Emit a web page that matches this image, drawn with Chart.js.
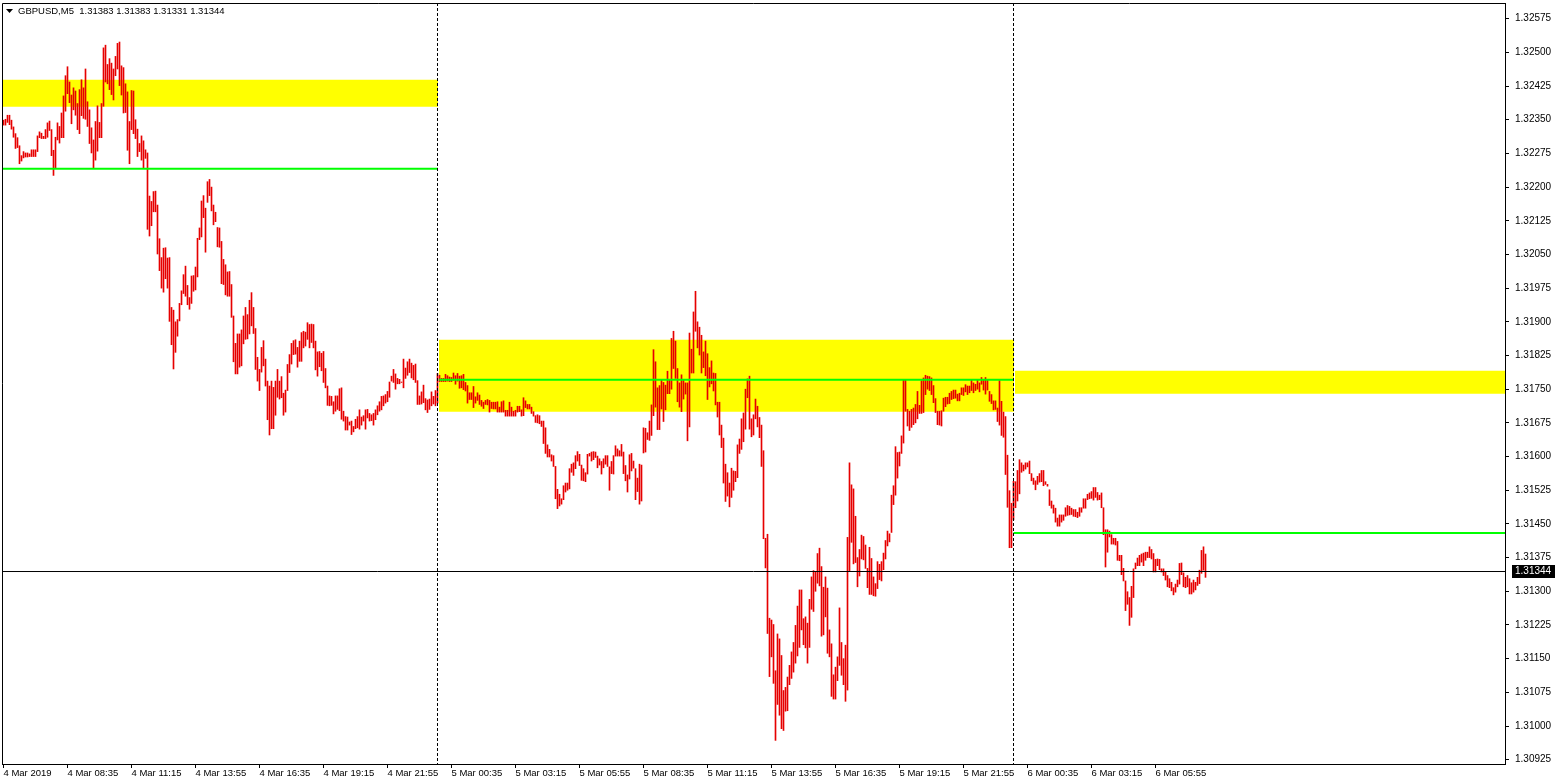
<!DOCTYPE html>
<html><head><meta charset="utf-8">
<script src="https://cdn.jsdelivr.net/npm/chart.js@4.4.1/dist/chart.umd.min.js"></script>
<style>html,body{margin:0;padding:0;background:#fff;}canvas{display:block;}</style>
</head><body>
<canvas id="c" width="1557" height="783"></canvas>
<script>
const symbol = 'GBPUSD';
const timeframe = 'M5';
const lastQuote = [1.31383, 1.31383, 1.31331, 1.31344]; // open, high, low, close of the last bar

// M5 bars from 4 Mar 05:55 to 6 Mar 08:00 (index 0..601)
const highs = [
1.32349,1.32351,1.32360,1.32360,1.32349,1.32334,1.32319,1.32310,1.32292,1.32270,
1.32279,1.32276,1.32276,1.32274,1.32283,1.32283,1.32283,1.32314,1.32323,1.32320,
1.32313,1.32328,1.32343,1.32347,1.32328,1.32282,1.32311,1.32343,1.32335,1.32365,
1.32403,1.32448,1.32468,1.32434,1.32405,1.32421,1.32414,1.32386,1.32417,1.32439,
1.32421,1.32463,1.32390,1.32372,1.32332,1.32305,1.32346,1.32381,1.32344,1.32386,
1.32510,1.32516,1.32473,1.32486,1.32476,1.32463,1.32491,1.32520,1.32523,1.32470,
1.32466,1.32430,1.32412,1.32346,1.32415,1.32414,1.32350,1.32329,1.32297,1.32314,
1.32303,1.32283,1.32276,1.32180,1.32168,1.32190,1.32191,1.32160,1.32085,1.32043,
1.32064,1.32065,1.32042,1.32043,1.31932,1.31926,1.31900,1.31905,1.31941,1.31969,
1.32005,1.32024,1.31981,1.31954,1.32002,1.32003,1.32022,1.32086,1.32109,1.32169,
1.32181,1.32153,1.32212,1.32217,1.32200,1.32160,1.32144,1.32110,1.32109,
1.32079,1.32039,1.32027,1.32011,1.32012,1.31983,1.31913,1.31852,1.31873,1.31873,
1.31882,1.31913,1.31932,1.31916,1.31948,1.31965,1.31932,1.31885,1.31821,1.31794,
1.31843,1.31858,1.31817,1.31768,1.31757,1.31768,1.31754,1.31768,1.31794,1.31768,
1.31778,1.31741,1.31748,1.31805,1.31827,1.31852,1.31858,1.31860,1.31843,1.31857,
1.31876,1.31879,1.31877,1.31898,1.31894,1.31895,1.31894,1.31857,1.31833,1.31834,
1.31830,1.31834,1.31796,1.31757,1.31735,1.31734,1.31722,1.31735,1.31735,1.31751,
1.31753,1.31701,1.31689,1.31688,1.31677,1.31679,1.31667,1.31683,1.31689,1.31704,
1.31688,1.31691,1.31704,1.31705,1.31696,1.31693,1.31696,1.31704,1.31713,1.31722,
1.31734,1.31735,1.31738,1.31745,1.31766,1.31779,1.31794,1.31784,1.31774,1.31772,
1.31766,1.31817,1.31797,1.31811,1.31817,1.31808,1.31803,1.31806,1.31769,1.31735,
1.31744,1.31759,1.31729,1.31726,1.31728,1.31744,1.31734,1.31747,1.31785,
1.31781,1.31774,1.31774,1.31783,1.31780,1.31777,1.31776,1.31786,1.31780,1.31785,
1.31779,1.31780,1.31783,1.31765,1.31758,1.31742,1.31742,1.31756,1.31733,1.31742,
1.31737,1.31725,1.31721,1.31725,1.31727,1.31725,1.31721,1.31721,1.31721,1.31722,
1.31710,1.31722,1.31724,1.31703,1.31703,1.31721,1.31710,1.31701,1.31703,1.31712,
1.31712,1.31704,1.31731,1.31724,1.31716,1.31716,1.31710,1.31700,1.31691,1.31693,
1.31691,1.31679,1.31679,1.31664,1.31626,1.31616,1.31604,1.31602,1.31578,1.31527,
1.31516,1.31506,1.31535,1.31541,1.31541,1.31573,1.31583,1.31586,1.31602,1.31611,
1.31605,1.31581,1.31573,1.31564,1.31605,1.31607,1.31610,1.31611,1.31610,1.31601,
1.31595,1.31589,1.31595,1.31602,1.31602,1.31577,1.31589,1.31602,1.31624,1.31617,
1.31613,1.31627,1.31610,1.31580,1.31559,1.31604,1.31607,1.31590,1.31573,1.31552,
1.31583,1.31581,1.31664,1.31663,1.31653,1.31679,
1.31715,1.31838,1.31811,1.31753,1.31758,1.31770,1.31765,1.31759,1.31790,1.31771,
1.31863,1.31879,1.31857,1.31796,1.31764,1.31782,1.31771,1.31764,1.31764,1.31875,
1.31839,1.31922,1.31968,1.31900,1.31888,1.31870,1.31833,1.31857,1.31829,1.31798,
1.31813,1.31786,1.31785,1.31721,1.31721,1.31670,1.31641,1.31583,1.31564,1.31541,
1.31574,1.31568,1.31567,1.31626,1.31639,1.31684,1.31697,1.31750,1.31773,1.31779,
1.31684,1.31693,1.31728,1.31712,1.31687,1.31670,1.31613,1.31418,1.31427,1.31240,
1.31236,1.31226,1.31123,1.31205,1.31194,1.31157,1.31079,1.31086,1.31109,1.31135,
1.31165,1.31186,1.31224,1.31267,1.31303,1.31303,1.31239,1.31243,1.31229,1.31282,
1.31332,1.31346,1.31343,1.31384,1.31396,1.31355,1.31309,1.31332,1.31307,1.31214,
1.31183,1.31114,1.31131,1.31154,1.31263,1.31186,1.31150,1.31180,1.31420,1.31586,
1.31537,1.31528,1.31467,1.31375,1.31393,
1.31425,1.31422,1.31403,1.31351,1.31398,1.31373,1.31332,1.31317,1.31366,1.31360,
1.31366,1.31385,1.31413,1.31434,1.31428,1.31514,1.31535,1.31622,1.31609,1.31610,
1.31646,1.31772,1.31772,1.31705,1.31701,1.31705,1.31708,1.31716,1.31745,1.31714,
1.31769,1.31775,1.31781,1.31779,1.31778,1.31775,1.31758,1.31729,1.31701,1.31701,
1.31702,1.31730,1.31732,1.31732,1.31741,1.31745,1.31748,1.31748,1.31739,1.31741,
1.31753,1.31753,1.31760,1.31757,1.31757,1.31770,1.31764,1.31761,1.31772,1.31764,
1.31776,1.31772,1.31776,1.31772,1.31745,1.31738,1.31724,1.31724,1.31708,1.31769,
1.31723,1.31699,1.31689,1.31603,1.31524,1.31496,1.31545,
1.31544,1.31569,1.31593,1.31586,1.31581,1.31586,1.31586,1.31590,1.31562,1.31552,
1.31546,1.31556,1.31562,1.31569,1.31569,1.31544,1.31538,1.31526,1.31501,1.31492,
1.31485,1.31463,1.31470,1.31470,1.31470,1.31486,1.31491,1.31489,1.31485,1.31482,
1.31482,1.31476,1.31486,1.31486,1.31506,1.31506,1.31516,1.31519,1.31522,1.31531,
1.31531,1.31520,1.31514,1.31519,1.31486,1.31437,1.31437,1.31434,1.31426,1.31418,
1.31418,1.31411,1.31380,1.31380,1.31351,1.31323,1.31299,1.31286,1.31311,1.31350,
1.31363,1.31374,1.31380,1.31383,1.31385,1.31387,1.31387,1.31399,1.31393,1.31384,
1.31371,1.31372,1.31371,1.31350,1.31350,1.31343,1.31335,1.31328,1.31320,1.31308,
1.31316,1.31325,1.31362,1.31363,1.31341,1.31331,1.31335,1.31328,1.31319,1.31325,
1.31320,1.31331,1.31347,1.31391,1.31399,1.31383
];
const lows = [
1.32338,1.32338,1.32344,1.32339,1.32329,1.32311,1.32286,1.32288,1.32252,1.32258,
1.32265,1.32267,1.32267,1.32268,1.32268,1.32268,1.32268,1.32279,1.32310,1.32308,
1.32308,1.32308,1.32311,1.32326,1.32270,1.32226,1.32243,1.32305,1.32298,1.32310,
1.32310,1.32369,1.32408,1.32388,1.32341,1.32372,1.32360,1.32328,1.32319,1.32359,
1.32353,1.32351,1.32335,1.32297,1.32276,1.32243,1.32260,1.32280,1.32310,1.32310,
1.32380,1.32434,1.32430,1.32417,1.32406,1.32394,1.32448,1.32463,1.32426,1.32405,
1.32365,1.32366,1.32282,1.32252,1.32328,1.32319,1.32308,1.32268,1.32279,1.32260,
1.32243,1.32264,1.32106,1.32091,1.32114,1.32145,1.32145,1.32051,1.32014,1.31975,
1.31966,1.31996,1.31975,1.31901,1.31849,1.31795,1.31832,1.31868,1.31902,1.31938,
1.31963,1.31957,1.31938,1.31928,1.31941,1.31968,1.31971,1.32000,1.32083,1.32089,
1.32132,1.32055,1.32166,1.32181,1.32147,1.32116,1.32123,1.32067,1.32066,
1.31985,1.31983,1.31960,1.31957,1.31957,1.31910,1.31811,1.31784,1.31784,1.31799,
1.31802,1.31851,1.31861,1.31862,1.31873,1.31891,1.31874,1.31794,1.31768,1.31747,
1.31788,1.31802,1.31757,1.31682,1.31648,1.31662,1.31662,1.31692,1.31732,1.31728,
1.31731,1.31692,1.31699,1.31747,1.31787,1.31806,1.31827,1.31828,1.31799,1.31812,
1.31812,1.31842,1.31846,1.31861,1.31842,1.31854,1.31842,1.31793,1.31779,1.31800,
1.31791,1.31765,1.31753,1.31714,1.31713,1.31714,1.31695,1.31701,1.31705,1.31702,
1.31683,1.31679,1.31659,1.31659,1.31670,1.31649,1.31655,1.31662,1.31664,1.31661,
1.31670,1.31679,1.31661,1.31686,1.31679,1.31680,1.31670,1.31682,1.31693,1.31701,
1.31704,1.31713,1.31719,1.31722,1.31732,1.31768,1.31765,1.31750,1.31762,1.31762,
1.31765,1.31753,1.31774,1.31781,1.31787,1.31775,1.31771,1.31765,1.31716,1.31716,
1.31717,1.31720,1.31704,1.31698,1.31705,1.31713,1.31717,1.31713,1.31719,
1.31767,1.31767,1.31767,1.31767,1.31768,1.31767,1.31767,1.31770,1.31761,1.31768,
1.31752,1.31753,1.31749,1.31746,1.31719,1.31727,1.31727,1.31709,1.31719,1.31725,
1.31716,1.31712,1.31707,1.31716,1.31715,1.31699,1.31707,1.31706,1.31706,1.31699,
1.31699,1.31699,1.31699,1.31690,1.31690,1.31690,1.31690,1.31690,1.31690,1.31699,
1.31700,1.31690,1.31691,1.31709,1.31706,1.31706,1.31696,1.31690,1.31676,1.31675,
1.31673,1.31667,1.31629,1.31607,1.31599,1.31599,1.31590,1.31578,1.31506,1.31484,
1.31490,1.31494,1.31504,1.31521,1.31525,1.31528,1.31565,1.31558,1.31573,1.31590,
1.31580,1.31547,1.31546,1.31544,1.31561,1.31601,1.31590,1.31593,1.31598,1.31575,
1.31581,1.31561,1.31575,1.31583,1.31578,1.31525,1.31562,1.31561,1.31601,1.31601,
1.31601,1.31601,1.31562,1.31546,1.31521,1.31550,1.31568,1.31574,1.31504,1.31522,
1.31494,1.31501,1.31608,1.31610,1.31638,1.31636,
1.31647,1.31691,1.31710,1.31660,1.31660,1.31706,1.31678,1.31704,1.31740,1.31740,
1.31750,1.31796,1.31774,1.31722,1.31710,1.31700,1.31728,1.31739,1.31635,1.31666,
1.31786,1.31786,1.31879,1.31842,1.31826,1.31786,1.31798,1.31780,1.31727,1.31755,
1.31762,1.31746,1.31715,1.31688,1.31648,1.31620,1.31541,1.31500,1.31512,1.31488,
1.31509,1.31525,1.31544,1.31553,1.31607,1.31616,1.31633,1.31661,1.31731,1.31661,
1.31644,1.31648,1.31684,1.31666,1.31642,1.31578,1.31417,1.31352,1.31206,1.31110,
1.31154,1.31095,1.30968,1.31048,1.31024,1.30994,1.30990,1.31033,1.31034,1.31092,
1.31106,1.31120,1.31140,1.31156,1.31175,1.31214,1.31181,1.31174,1.31140,1.31175,
1.31260,1.31255,1.31300,1.31318,1.31312,1.31200,1.31203,1.31243,1.31162,1.31154,
1.31066,1.31060,1.31060,1.31101,1.31135,1.31113,1.31092,1.31055,1.31080,1.31346,
1.31409,1.31361,1.31364,1.31310,1.31334,
1.31372,1.31370,1.31351,1.31308,1.31293,1.31293,1.31290,1.31289,1.31306,1.31326,
1.31323,1.31348,1.31372,1.31401,1.31410,1.31431,1.31493,1.31514,1.31552,1.31579,
1.31607,1.31630,1.31701,1.31668,1.31658,1.31665,1.31671,1.31675,1.31684,1.31696,
1.31696,1.31698,1.31738,1.31750,1.31747,1.31738,1.31720,1.31698,1.31671,1.31670,
1.31668,1.31701,1.31711,1.31717,1.31718,1.31727,1.31729,1.31730,1.31724,1.31724,
1.31738,1.31736,1.31744,1.31738,1.31742,1.31747,1.31742,1.31747,1.31750,1.31744,
1.31761,1.31748,1.31739,1.31748,1.31723,1.31718,1.31704,1.31705,1.31678,1.31670,
1.31647,1.31643,1.31560,1.31487,1.31397,1.31397,1.31459,
1.31486,1.31501,1.31517,1.31565,1.31568,1.31572,1.31577,1.31562,1.31546,1.31538,
1.31526,1.31538,1.31543,1.31544,1.31535,1.31538,1.31534,1.31491,1.31485,1.31474,
1.31454,1.31445,1.31445,1.31454,1.31458,1.31467,1.31469,1.31470,1.31471,1.31467,
1.31466,1.31464,1.31467,1.31476,1.31485,1.31485,1.31504,1.31506,1.31507,1.31503,
1.31509,1.31503,1.31504,1.31486,1.31426,1.31354,1.31387,1.31421,1.31405,1.31405,
1.31403,1.31369,1.31368,1.31337,1.31323,1.31257,1.31271,1.31224,1.31242,1.31286,
1.31350,1.31357,1.31357,1.31365,1.31357,1.31369,1.31375,1.31375,1.31372,1.31343,
1.31343,1.31357,1.31348,1.31343,1.31335,1.31325,1.31310,1.31308,1.31301,1.31292,
1.31298,1.31310,1.31316,1.31337,1.31310,1.31308,1.31310,1.31294,1.31294,1.31298,
1.31303,1.31313,1.31317,1.31340,1.31347,1.31331
];

const tickBars = [0,32,64,96,128,160,192,224,256,288,320,352,384,416,448,480,512,544,576];
const tickLabels = ['4 Mar 2019','4 Mar 08:35','4 Mar 11:15','4 Mar 13:55','4 Mar 16:35','4 Mar 19:15','4 Mar 21:55',
  '5 Mar 00:35','5 Mar 03:15','5 Mar 05:55','5 Mar 08:35','5 Mar 11:15','5 Mar 13:55','5 Mar 16:35','5 Mar 19:15','5 Mar 21:55',
  '6 Mar 00:35','6 Mar 03:15','6 Mar 05:55'];
const priceTicks = [1.30925,1.31000,1.31075,1.31150,1.31225,1.31300,1.31375,1.31450,1.31525,1.31600,1.31675,1.31750,
  1.31825,1.31900,1.31975,1.32050,1.32125,1.32200,1.32275,1.32350,1.32425,1.32500,1.32575];

const separatorBars = [217, 505]; // 5 Mar 00:00, 6 Mar 00:00
const zoneStart = [-0.75, 217.75, 505.75];
const zoneEnd   = [217.25, 505.25, 750.75];
const zoneHigh  = [1.32439, 1.31860, 1.31791];
const zoneLow   = [1.32379, 1.31700, 1.31740];
const levelStart = [-0.75, 217.75, 505];
const levelEnd   = [217.25, 505.25, 750.75];
const levelPrice = [1.32241, 1.31771, 1.31430];

const X_MIN = -0.75, X_MAX = 750.75;
const Y_MIN = 1.309154, Y_MAX = 1.326099;
const FONT = '"Liberation Sans", Arial, sans-serif';
const BAR_COLOR = '#e60000';

const datasets = [];
zoneStart.forEach((s, k) => {
  datasets.push({type:'line', data:[{x:s, y:zoneHigh[k]}, {x:zoneEnd[k], y:zoneHigh[k]}],
    borderColor:'rgba(0,0,0,0)', borderWidth:0, pointRadius:0, backgroundColor:'#ffff00',
    fill:{value: zoneLow[k]}, order:10});
});
datasets.push({type:'bar', data: highs.map((h, i) => ({x:i, y:[lows[i], h]})),
  backgroundColor: BAR_COLOR, borderWidth:0, barThickness:1, order:5});
levelStart.forEach((s, k) => {
  datasets.push({type:'line', data:[{x:s, y:levelPrice[k]}, {x:levelEnd[k], y:levelPrice[k]}],
    borderColor:'#00ff00', borderWidth:2, pointRadius:0, fill:false, order:2});
});
datasets.push({type:'line', data:[{x:X_MIN, y:lastQuote[3]}, {x:X_MAX, y:lastQuote[3]}],
  borderColor:'#000', borderWidth:1, pointRadius:0, fill:false, order:1});
separatorBars.forEach(b => {
  datasets.push({type:'line', data:[{x:b, y:Y_MAX}, {x:b, y:Y_MIN}],
    borderColor:'#000', borderWidth:1, borderDash:[3,2], pointRadius:0, fill:false, order:0});
});

const decor = {
  id:'decor',
  afterDraw(chart) {
    const {ctx, chartArea:a, scales:{y}} = chart;
    ctx.save();
    ctx.strokeStyle = '#000'; ctx.lineWidth = 1;
    ctx.beginPath();
    ctx.moveTo(a.left + 0.5, a.bottom); ctx.lineTo(a.left + 0.5, a.top + 0.5); ctx.lineTo(a.right, a.top + 0.5);
    ctx.stroke();
    // title
    ctx.fillStyle = '#000';
    ctx.beginPath(); ctx.moveTo(6, 9); ctx.lineTo(13, 9); ctx.lineTo(9.5, 13); ctx.closePath(); ctx.fill();
    ctx.font = '9.5px ' + FONT; ctx.textBaseline = 'middle'; ctx.textAlign = 'left';
    ctx.fillText(symbol + ',' + timeframe + '  ' + lastQuote.map(v => v.toFixed(5)).join(' '), 18, 11);
    // current price label
    const py = Math.floor(y.getPixelForValue(lastQuote[3]));
    ctx.fillStyle = '#000';
    ctx.fillRect(1512, py - 6, 43, 13);
    ctx.fillStyle = '#fff';
    ctx.font = '10px ' + FONT;
    ctx.fillText(lastQuote[3].toFixed(5), 1515, py + 0.5);
    ctx.restore();
  }
};

new Chart(document.getElementById('c'), {
  type:'bar',
  data:{datasets},
  plugins:[decor],
  options:{
    responsive:false, animation:false, devicePixelRatio:1,
    layout:{padding:{top:3, left:2, right:0, bottom:0}},
    plugins:{legend:{display:false}, tooltip:{enabled:false}},
    scales:{
      x:{type:'linear', min:X_MIN, max:X_MAX, offset:false, position:'bottom',
        grid:{drawOnChartArea:false, drawTicks:true, tickLength:4, color:'#000', tickColor:'#000', offset:false},
        border:{display:true, color:'#000', width:1},
        ticks:{autoSkip:false, maxRotation:0, minRotation:0, align:'start', padding:0, color:'#000',
          font:{family:FONT, size:9.5}, callback:(v, i) => tickLabels[i]},
        afterBuildTicks: s => { s.ticks = tickBars.map(v => ({value:v})); },
        afterFit: s => { s.height = 19; s.paddingLeft = 0; s.paddingRight = 0; s.paddingTop = 0; s.paddingBottom = 0; }
      },
      y:{type:'linear', position:'right', min:Y_MIN, max:Y_MAX,
        grid:{drawOnChartArea:false, drawTicks:true, tickLength:4, color:'#000', tickColor:'#000'},
        border:{display:true, color:'#000', width:1},
        ticks:{autoSkip:false, padding:6, color:'#000', font:{family:FONT, size:10},
          callback:v => Number(v).toFixed(5)},
        afterBuildTicks: s => { s.ticks = priceTicks.map(v => ({value:v})); },
        afterFit: s => { s.width = 52; s.paddingTop = 0; s.paddingBottom = 0; s.paddingLeft = 0; s.paddingRight = 0; }
      }
    }
  }
});
</script>
</body></html>
